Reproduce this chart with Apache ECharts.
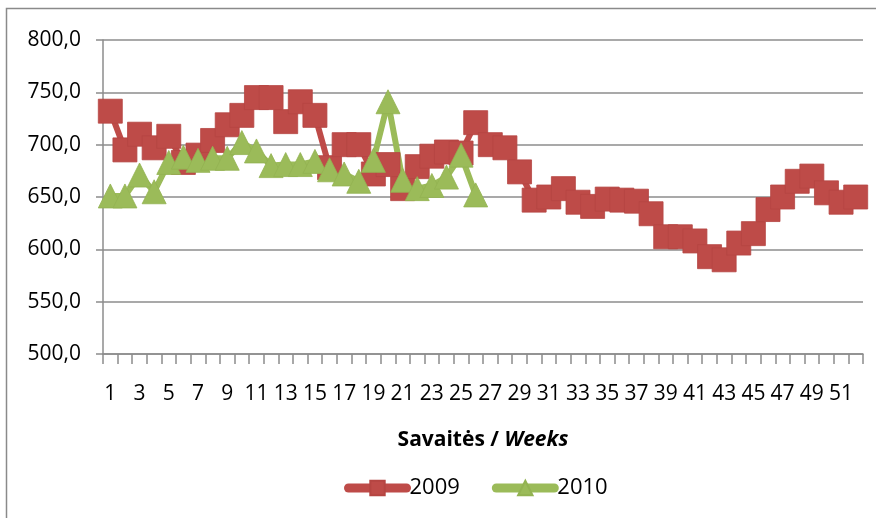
<!DOCTYPE html>
<html>
<head>
<meta charset="utf-8">
<script src="https://cdn.jsdelivr.net/npm/echarts@6/dist/echarts.min.js"></script>
<style>
  html, body { margin: 0; padding: 0; background: #fff; }
  #chart { width: 876px; height: 518px; }
</style>
</head>
<body>
<div id="chart"></div>
<script>
// weeks 1..52
const weeks = Array.from({ length: 52 }, (_, i) => String(i + 1))

const values2009 = [
  732, 695, 710, 697, 708, 683, 690, 704, 719, 728,
  745, 745, 722, 741, 728, 678, 700, 700, 672, 681,
  658, 679, 689, 693, 692, 721, 700, 697, 674, 647,
  650, 658, 645, 641, 648, 647, 646, 634, 612, 612,
  608, 593, 590, 606, 615, 638, 650, 665, 670, 654,
  645, 650
]

const values2010 = [
  651, 651, 671, 655, 683, 688, 685, 687, 687, 702,
  694, 680, 681, 681, 684, 676, 672, 665, 685, 741,
  666, 658, 661, 669, 690, 652
]

const yTicks = [500, 550, 600, 650, 700, 750, 800]

const FONT = 'Open Sans'
const chart = echarts.init(document.getElementById('chart'))

const option = {
  backgroundColor: '#fff',
  animation: false,
  textStyle: { fontFamily: FONT, color: '#000' },
  grid: { left: 103, right: 13, top: 40, bottom: 164 },
  graphic: [
    {
      type: 'rect',
      shape: { x: 6.5, y: 8.5, width: 900, height: 600 },
      style: { fill: 'none', stroke: '#8a8a8a', lineWidth: 1.5 },
      silent: true
    }
  ],
  legend: {
    left: 339,
    top: 472,
    itemWidth: 58,
    itemHeight: 18,
    itemGap: 32,
    lineStyle: { width: 9, cap: 'round' },
    textStyle: { fontFamily: FONT, fontSize: 22, color: '#000', padding: [0, 0, 0, -2] },
    data: ['2009', '2010']
  },
  xAxis: {
    type: 'category',
    data: weeks,
    boundaryGap: true,
    name: '{b|Savaitės / }{bi|Weeks}',
    nameLocation: 'middle',
    nameGap: 76,
    nameTextStyle: {
      rich: {
        b: { fontFamily: FONT, fontSize: 21, fontWeight: 'bold', color: '#000' },
        bi: { fontFamily: FONT, fontSize: 21, fontWeight: 'bold', fontStyle: 'italic', color: '#000' }
      }
    },
    axisLine: { lineStyle: { color: '#8c8c8c', width: 1.5 } },
    axisTick: { show: true, interval: 0, length: 10, lineStyle: { color: '#8c8c8c', width: 1.5 } },
    axisLabel: { interval: 1, margin: 30, fontSize: 21, color: '#000', fontFamily: FONT },
    splitLine: { show: false }
  },
  yAxis: {
    type: 'value',
    min: yTicks[0],
    max: yTicks[yTicks.length - 1],
    interval: 50,
    axisLine: { show: true, lineStyle: { color: '#8c8c8c', width: 1.5 } },
    axisTick: { show: true, length: 7, lineStyle: { color: '#8c8c8c', width: 1.5 } },
    axisLabel: {
      margin: 22,
      fontSize: 21,
      color: '#000',
      fontFamily: FONT,
      formatter: (v) => v.toFixed(1).replace('.', ',')
    },
    splitLine: { lineStyle: { color: '#8c8c8c', width: 1.5 } }
  },
  series: [
    {
      name: '2009',
      type: 'line',
      data: values2009,
      symbol: 'rect',
      symbolSize: 24,
      showAllSymbol: true,
      lineStyle: { color: '#BE4B48', width: 6, cap: 'round', join: 'round' },
      itemStyle: { color: '#BE4B48', borderColor: '#B54542', borderWidth: 0.8 }
    },
    {
      name: '2010',
      type: 'line',
      data: values2010,
      symbol: 'triangle',
      symbolSize: 24,
      showAllSymbol: true,
      lineStyle: { color: '#9BBB59', width: 6, cap: 'round', join: 'round' },
      itemStyle: { color: '#9BBB59', borderColor: '#93B352', borderWidth: 0.8 }
    }
  ]
}

chart.setOption(option)
window.addEventListener('resize', () => chart.resize())
</script>
</body>
</html>
